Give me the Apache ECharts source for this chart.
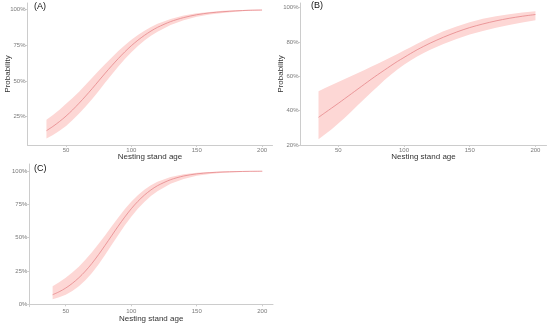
<!DOCTYPE html>
<html>
<head>
<meta charset="utf-8">
<script src="https://cdn.jsdelivr.net/npm/echarts@6/dist/echarts.min.js"></script>
<style>html,body{margin:0;padding:0;background:#fff}#c{width:550px;height:325px}</style>
</head>
<body>
<div id="c"></div>
<script>
// Panel A
const xA = [35,40,45,50,55,60,65,70,75,80,85,90,95,100,105,110,115,120,130,140,150,160,170,180,190,200];
const fitA = [0.152,0.182,0.216,0.254,0.297,0.344,0.394,0.446,0.500,0.554,0.606,0.656,0.703,0.746,0.784,0.818,0.848,0.874,0.914,0.942,0.962,0.975,0.983,0.989,0.993,0.995];
const loA = [0.098,0.122,0.151,0.185,0.226,0.272,0.321,0.374,0.430,0.489,0.545,0.600,0.652,0.700,0.743,0.782,0.815,0.844,0.890,0.924,0.948,0.964,0.975,0.983,0.989,0.992];
const hiA = [0.228,0.262,0.299,0.340,0.380,0.424,0.473,0.521,0.570,0.617,0.664,0.708,0.748,0.787,0.821,0.850,0.876,0.899,0.933,0.957,0.972,0.982,0.989,0.993,0.996,0.997];
// Panel B
const xB = [35,40,45,50,55,60,65,70,75,80,85,90,95,100,105,110,115,120,130,140,150,160,170,180,190,200];
const fitB = [0.361,0.388,0.415,0.442,0.470,0.498,0.526,0.554,0.582,0.609,0.635,0.661,0.686,0.709,0.732,0.754,0.774,0.793,0.827,0.857,0.883,0.904,0.922,0.937,0.949,0.959];
const loB = [0.233,0.262,0.292,0.325,0.359,0.395,0.432,0.469,0.505,0.541,0.576,0.608,0.639,0.667,0.691,0.715,0.735,0.754,0.787,0.816,0.843,0.863,0.882,0.898,0.912,0.925];
const hiB = [0.512,0.531,0.549,0.566,0.584,0.602,0.619,0.636,0.655,0.673,0.691,0.710,0.729,0.749,0.769,0.789,0.808,0.827,0.862,0.890,0.914,0.934,0.949,0.961,0.971,0.978];
// Panel C
const xC = [40,45,50,55,60,65,70,75,80,85,90,95,100,105,110,115,120,130,140,150,160,170,180,190,200];
const fitC = [0.072,0.094,0.122,0.157,0.199,0.249,0.307,0.372,0.442,0.514,0.586,0.654,0.717,0.772,0.819,0.858,0.890,0.935,0.963,0.979,0.988,0.993,0.996,0.998,0.999];
const loC = [0.037,0.052,0.072,0.100,0.136,0.181,0.235,0.299,0.370,0.445,0.519,0.591,0.657,0.717,0.768,0.813,0.849,0.904,0.941,0.964,0.978,0.987,0.992,0.995,0.997];
const hiC = [0.136,0.165,0.199,0.238,0.282,0.334,0.391,0.452,0.517,0.584,0.650,0.713,0.770,0.819,0.860,0.894,0.920,0.956,0.977,0.988,0.993,0.997,0.998,0.999,1.000];

const xTicks = [50,100,150,200];
const yTicksAC = [0,0.25,0.5,0.75,1];
const yTicksB = [0.2,0.4,0.6,0.8,1];
const panelLabels = ['(A)','(B)','(C)'];
const xTitle = 'Nesting stand age';
const yTitle = 'Probability';

const FONT = 'Liberation Sans, Arial, sans-serif';
const AXC = '#cccccc';
const LABC = '#7a7a7a';
const BAND = '#fdd7d5';
const LINE = '#e6868a';

function xAxis(i, min, max) {
  return {
    type:'value', gridIndex:i, min:min, max:max,
    name:xTitle, nameLocation:'middle', nameGap:8, nameMoveOverlap:false,
    nameTextStyle:{fontFamily:FONT, fontSize:8, color:'#333'},
    axisLine:{show:true, lineStyle:{color:AXC, width:1}},
    axisTick:{show:true, length:2, lineStyle:{color:AXC}, customValues:xTicks},
    axisLabel:{fontFamily:FONT, fontSize:6, color:LABC, margin:2, customValues:xTicks},
    splitLine:{show:false}
  };
}
function yAxis(i, min, max, ticks, showName) {
  return {
    type:'value', gridIndex:i, min:min, max:max,
    name: showName ? yTitle : '', nameLocation:'middle', nameGap:16, nameRotate:90, nameMoveOverlap:false,
    nameTextStyle:{fontFamily:FONT, fontSize:8, color:'#333'},
    axisLine:{show:true, lineStyle:{color:AXC, width:1}},
    axisTick:{show:true, length:2, lineStyle:{color:AXC}, customValues:ticks},
    axisLabel:{fontFamily:FONT, fontSize:6, color:LABC, margin:2, customValues:ticks,
      formatter: v => Math.round(v*100) + '%'},
    splitLine:{show:false}
  };
}
function bandSeries(i, xs, fit, lo, hi) {
  return [
    {type:'custom', xAxisIndex:i, yAxisIndex:i, silent:true, z:1,
     data:[[xs[0], lo[0]]],
     renderItem: function (params, api) {
       const pts = [];
       for (let j = 0; j < xs.length; j++) pts.push(api.coord([xs[j], hi[j]]));
       for (let j = xs.length - 1; j >= 0; j--) pts.push(api.coord([xs[j], lo[j]]));
       return {type:'polygon', shape:{points:pts}, style:{fill:BAND, stroke:null}};
     }},
    {type:'line', xAxisIndex:i, yAxisIndex:i, symbol:'none', smooth:0.3,
     data: xs.map((x,j)=>[x, fit[j]]), lineStyle:{color:LINE, width:0.8}, z:5}
  ];
}

const chart = echarts.init(document.getElementById('c'), null, {renderer:'canvas'});
chart.setOption({
  animation:false,
  backgroundColor:'#fff',
  title: [
    {text:panelLabels[0], left:34, top:2},
    {text:panelLabels[1], left:311, top:1},
    {text:panelLabels[2], left:34, top:164}
  ].map(t => Object.assign(t, {textStyle:{fontFamily:FONT, fontSize:9, fontWeight:'normal', color:'#111'}, padding:0})),
  grid: [
    {left:27.5, top:3, width:245, height:142},
    {left:300.5, top:3, width:246, height:142},
    {left:29.3, top:164, width:243.7, height:142.7}
  ],
  xAxis: [xAxis(0, 20.5, 208), xAxis(1, 21.3, 208.4), xAxis(2, 22.2, 208.2)],
  yAxis: [yAxis(0, 0.052, 1.044, yTicksAC.slice(1), true), yAxis(1, 0.2, 1.026, yTicksB, true), yAxis(2, -0.018, 1.053, yTicksAC, false)],
  series: [].concat(bandSeries(0, xA, fitA, loA, hiA), bandSeries(1, xB, fitB, loB, hiB), bandSeries(2, xC, fitC, loC, hiC))
});
</script>
</body>
</html>
